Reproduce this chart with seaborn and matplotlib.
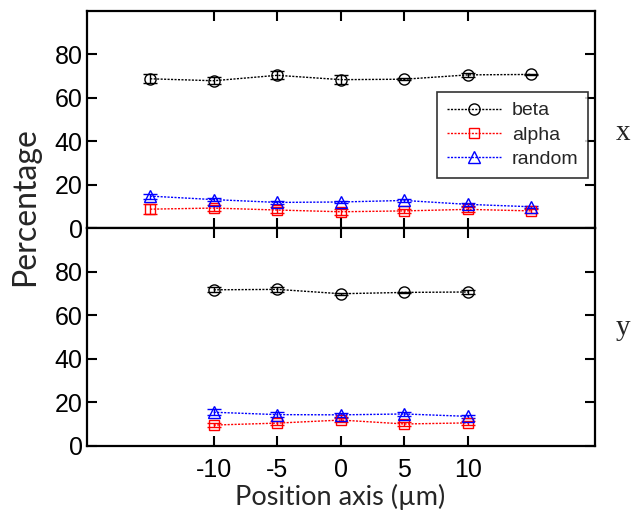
import matplotlib
matplotlib.use("Agg")
import matplotlib.pyplot as plt
from matplotlib.lines import Line2D
import seaborn as sns
import pandas as pd

# Positions along each scan direction (µm)
pos_x = [-15, -10, -5, 0, 5, 10, 15]
pos_y = [-10, -5, 0, 5, 10]

# x-direction scan
beta_x = [68.8, 67.9, 70.4, 68.4, 68.6, 70.6, 70.8]
beta_x_err = [2.0, 1.5, 1.8, 2.0, 0.5, 1.0, 0.3]
alpha_x = [8.8, 9.3, 8.4, 7.6, 8.0, 8.7, 8.0]
alpha_x_err = [2.3, 1.5, 1.5, 1.5, 1.0, 1.0, 1.0]
random_x = [14.8, 13.2, 11.9, 12.1, 12.8, 11.0, 9.9]
random_x_err = [1.2, 0.8, 0.6, 0.6, 0.5, 0.6, 0.5]

# y-direction scan
beta_y = [71.7, 71.9, 69.9, 70.5, 70.7]
beta_y_err = [1.2, 1.0, 0.5, 0.4, 0.8]
alpha_y = [9.5, 10.4, 11.8, 10.0, 10.5]
alpha_y_err = [1.0, 1.0, 1.0, 1.0, 1.0]
random_y = [15.4, 14.3, 14.2, 14.6, 13.5]
random_y_err = [1.5, 1.0, 1.0, 0.8, 0.8]

series_names = ["beta", "alpha", "random"]
colors = {"beta": "black", "alpha": "#ff0000", "random": "#0000ff"}
markers = {"beta": "o", "alpha": "s", "random": "^"}
msizes = {"beta": 8, "alpha": 7, "random": 8.5}
dotted = (0, (1.5, 1.0))

sns.set_theme(style="white")
plt.rcParams["font.family"] = ["Liberation Sans", "DejaVu Sans"]

fig = plt.figure(figsize=(6.34, 5.16), dpi=100)
left, right = 0.1367, 0.9385
top, mid, bot = 0.9787, 0.5576, 0.1362
ax_top = fig.add_axes([left, mid, right - left, top - mid])
ax_bot = fig.add_axes([left, bot, right - left, mid - bot])


def draw_panel(ax, pos, data):
    frames = []
    for name, (vals, errs) in data.items():
        frames.append(pd.DataFrame({"pos": pos, "val": vals, "err": errs, "series": name}))
    df = pd.concat(frames, ignore_index=True)
    for name in series_names:
        sub = df[df["series"] == name]
        ax.errorbar(sub["pos"], sub["val"], yerr=sub["err"], fmt="none",
                    ecolor=colors[name], elinewidth=1.0, capsize=5, capthick=1.0,
                    zorder=2)
        sns.lineplot(data=sub, x="pos", y="val", ax=ax, color=colors[name],
                     marker=markers[name], markersize=msizes[name],
                     markerfacecolor="none", markeredgecolor=colors[name],
                     markeredgewidth=1.0, linestyle=dotted,
                     linewidth=1.0, legend=False, zorder=3)
    ax.set_xlim(-20, 20)
    ax.set_ylim(0, 100)
    ax.set_xticks([-10, -5, 0, 5, 10])
    ax.set_yticks([0, 20, 40, 60, 80])
    ax.set_xlabel("")
    ax.set_ylabel("")
    for sp in ax.spines.values():
        sp.set_visible(True)
        sp.set_color("black")
        sp.set_linewidth(1.6)
    ax.tick_params(axis="both", which="major", direction="in", length=7, width=1.5,
                   top=True, right=True, bottom=True, left=True,
                   labelsize=18, colors="black")
    ax.tick_params(axis="x", pad=9)
    ax.tick_params(axis="y", pad=3)
    ax.set_facecolor("white")


draw_panel(ax_top, pos_x,
           {"beta": (beta_x, beta_x_err), "alpha": (alpha_x, alpha_x_err),
            "random": (random_x, random_x_err)})
draw_panel(ax_bot, pos_y,
           {"beta": (beta_y, beta_y_err), "alpha": (alpha_y, alpha_y_err),
            "random": (random_y, random_y_err)})

ax_top.tick_params(labelbottom=False)
ax_bot.set_xticklabels(["-10", "-5", "0", "5", "10"])

handles = [Line2D([], [], color=colors[n], linestyle=dotted, linewidth=1.0,
                  marker=markers[n], markersize=msizes[n], markerfacecolor="none",
                  markeredgecolor=colors[n], markeredgewidth=1.0)
           for n in series_names]
leg = ax_top.legend(handles, series_names, loc="upper left",
                    bbox_to_anchor=(0.689, 0.627), borderaxespad=0.0,
                    frameon=True, fancybox=False, edgecolor="black", fontsize=14,
                    handlelength=2.8, handletextpad=0.55, borderpad=0.5,
                    labelspacing=0.35, numpoints=1)
leg.get_frame().set_linewidth(1.2)

serif = ["Liberation Serif", "DejaVu Serif"]
fig.text(623 / 634, 1 - 140 / 516, "x", family=serif, fontsize=21,
         ha="center", va="baseline")
fig.text(623 / 634, 1 - 335 / 516, "y", family=serif, fontsize=21,
         ha="center", va="baseline")

fig.text(25 / 634, 1 - 207 / 516, "Percentage", family=["Lato", "DejaVu Sans"],
         fontsize=23, rotation=90, ha="center", va="center")
fig.text(0.537, 1 - 497 / 516, "Position axis (µm)", family=["Lato", "DejaVu Sans"],
         fontsize=19.5, ha="center", va="center")

fig.savefig("out.png", dpi=100, facecolor="white")
